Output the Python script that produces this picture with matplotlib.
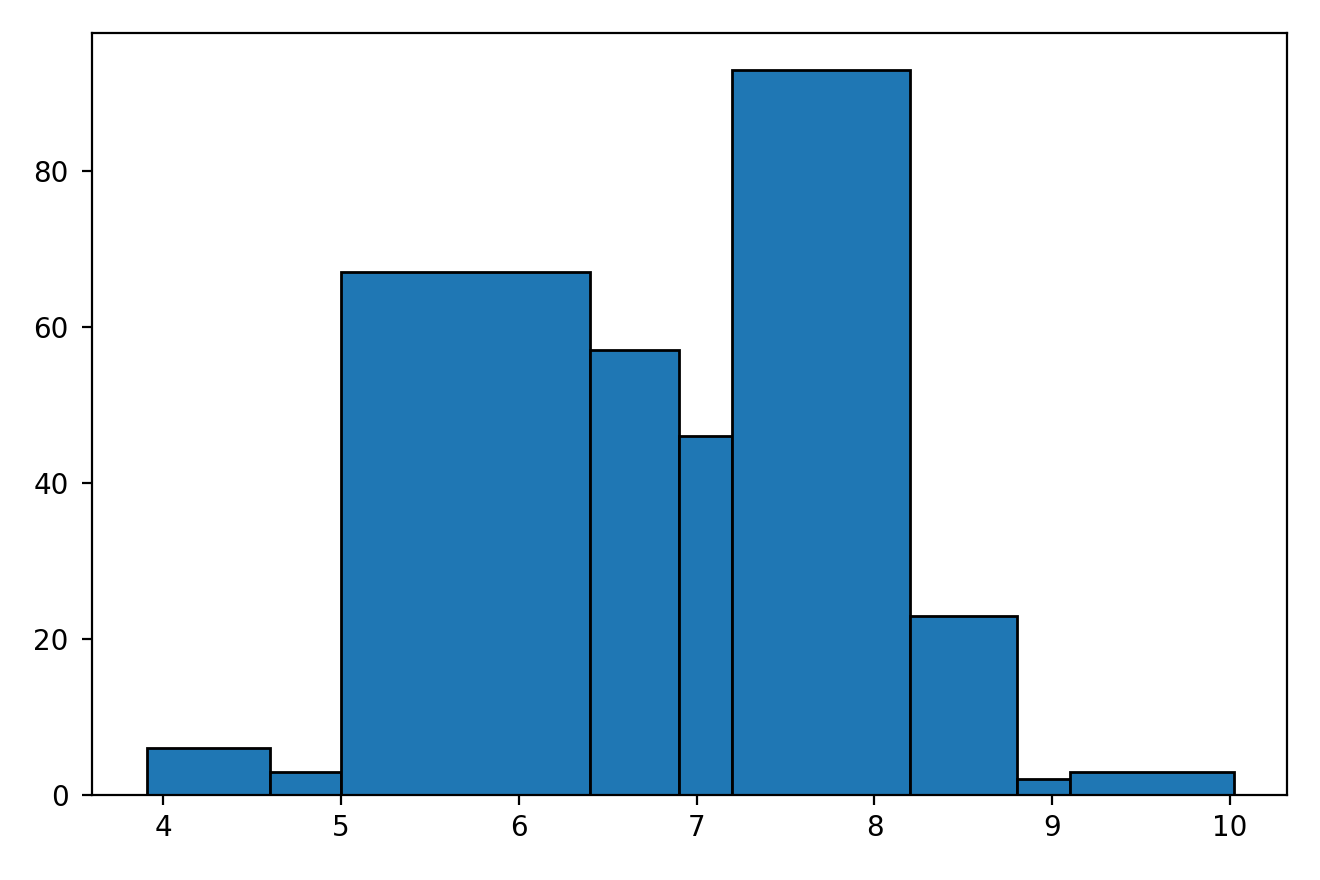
import matplotlib
matplotlib.use("Agg")
import matplotlib.pyplot as plt
import numpy as np

bin_edges = [3.91, 4.6, 5.0, 6.4, 6.9, 7.2, 8.2, 8.8, 9.1, 10.02]
counts = [6, 3, 67, 57, 46, 93, 23, 2, 3]

fig = plt.figure(figsize=(6.6, 4.4), dpi=200)
ax = fig.add_axes([92.3/1320, 1 - 795/880, (1287.3 - 92.3)/1320, (795 - 33.3)/880])
centers = [(a + b) / 2 for a, b in zip(bin_edges[:-1], bin_edges[1:])]
ax.hist(centers, bins=bin_edges, weights=counts, color="#1f77b4", edgecolor="black", linewidth=1.0)
ax.set_xlim(3.601, 10.322)
ax.set_yticks([0, 20, 40, 60, 80])
ax.set_xticks([4, 5, 6, 7, 8, 9, 10])
ax.tick_params(axis="y", pad=5)
fig.savefig("out.png", dpi=200)
